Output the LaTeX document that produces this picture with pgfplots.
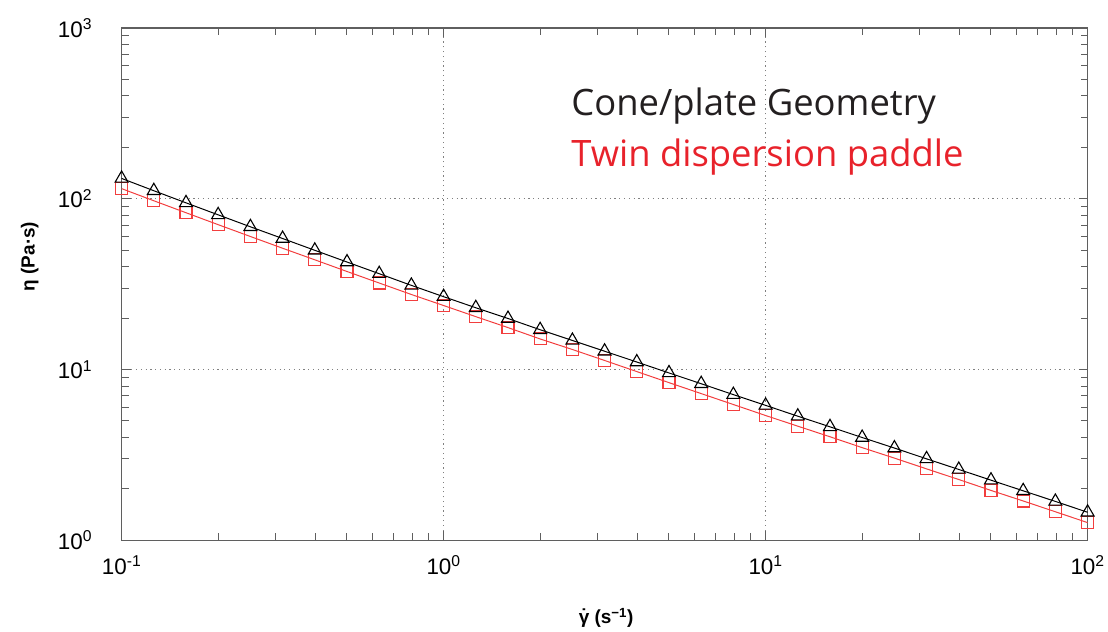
\documentclass[border=0pt]{standalone}
\usepackage{pgfplots}
\pgfplotsset{compat=1.18}
\usepackage{fontspec}
\setmainfont{Liberation Sans}
\newfontfamily\annfont{Open Sans}
\definecolor{axgray}{RGB}{95,95,95}
\definecolor{redline}{RGB}{242,62,62}
\definecolor{redtext}{RGB}{232,34,43}
\definecolor{txtblack}{RGB}{35,31,32}
\newcommand{\gdot}{\ooalign{γ\cr\hidewidth\raisebox{0.05em}{\char"02D9}\hidewidth\cr}}
\begin{document}
\begin{tikzpicture}
\begin{axis}[
  scale only axis, width=969pt, height=514pt,
  xmode=log, ymode=log,
  xmin=0.1, xmax=100, ymin=1, ymax=1000,
  xtick={0.1,1,10,100},
  xticklabels={10\textsuperscript{-1},10\textsuperscript{0},10\textsuperscript{1},10\textsuperscript{2}},
  ytick={1,10,100,1000},
  yticklabels={10\textsuperscript{0},10\textsuperscript{1},10\textsuperscript{2},10\textsuperscript{3}},
  minor xtick={0.2,0.3,0.4,0.5,0.6,0.7,0.8,0.9,2,3,4,5,6,7,8,9,20,30,40,50,60,70,80,90},
  minor ytick={2,3,4,5,6,7,8,9,20,30,40,50,60,70,80,90,200,300,400,500,600,700,800,900},
  tick label style={font=\fontsize{22.5}{24}\selectfont, text=black},
  xticklabel style={yshift=-12pt},
  yticklabel style={xshift=-26pt},
  grid=major,
  major grid style={gray, line width=0.9pt, dash pattern=on 1.2pt off 3.6pt},
  axis line style={axgray, line width=1.4pt},
  tick style={axgray, line width=1pt},
  tick align=inside, major tick length=9pt, minor tick length=7pt,
  xlabel={\bfseries\fontsize{19}{22}\selectfont \gdot{} (s\textsuperscript{−1})},
  ylabel={\bfseries\fontsize{19}{22}\selectfont η (Pa·s)},
  xlabel style={at={(rel axis cs:0.5015,-0.152)}, anchor=center},
  ylabel style={at={(rel axis cs:-0.095,0.554)}, anchor=center},
  clip=false,
]
\addplot[redline, line width=1pt, mark=square, mark size=6pt,
  mark options={solid, line width=1.1pt, fill=none}] table {
x y
0.1 114.6
0.1259 97.3
0.1585 82.8
0.1995 70.5
0.2512 60.1
0.3162 51.3
0.3981 43.9
0.5012 37.5
0.631 32.1
0.7943 27.5
1 23.7
1.259 20.4
1.585 17.6
1.995 15.1
2.512 13.1
3.162 11.3
3.981 9.73
5.012 8.38
6.31 7.23
7.943 6.24
10 5.38
12.59 4.66
15.85 4.04
19.95 3.49
25.12 3.03
31.62 2.62
39.81 2.27
50.12 1.96
63.1 1.70
79.43 1.47
100 1.27
};
\addplot[black, line width=1pt, mark=triangle, mark size=7.5pt,
  mark options={solid, line width=1.1pt, fill=none}] table {
x y
0.1 131.5
0.1259 111.4
0.1585 94.6
0.1995 80.5
0.2512 68.5
0.3162 58.5
0.3981 49.9
0.5012 42.6
0.631 36.4
0.7943 31.1
1 26.7
1.259 23.0
1.585 19.9
1.995 17.1
2.512 14.8
3.162 12.8
3.981 11.07
5.012 9.55
6.31 8.26
7.943 7.13
10 6.17
12.59 5.33
15.85 4.62
19.95 4.00
25.12 3.47
31.62 3.00
39.81 2.60
50.12 2.25
63.1 1.95
79.43 1.69
100 1.46
};
\node[anchor=base west, inner sep=0pt, text=txtblack, font=\annfont\fontsize{36.5}{40}\selectfont]
  at (rel axis cs:0.4654,0.8288) {Cone/plate Geometry};
\node[anchor=base west, inner sep=0pt, text=redtext, font=\annfont\fontsize{36.5}{40}\selectfont]
  at (rel axis cs:0.4654,0.7296) {Twin dispersion paddle};
\path (rel axis cs:-0.1259,-0.177) rectangle (rel axis cs:1.0175,1.0545);
\end{axis}
\end{tikzpicture}
\end{document}
